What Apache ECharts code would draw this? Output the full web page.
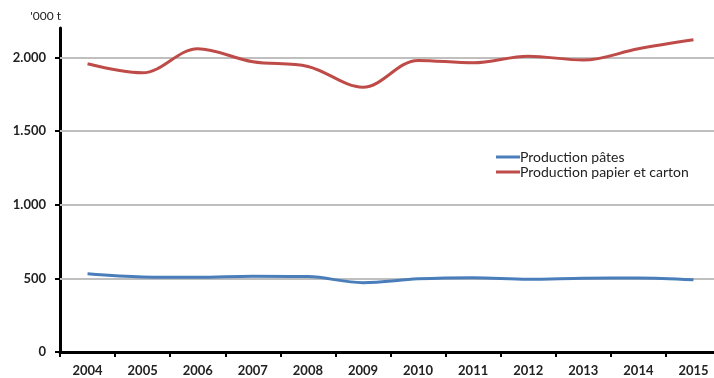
<!DOCTYPE html>
<html>
<head>
<meta charset="utf-8">
<script src="https://cdn.jsdelivr.net/npm/echarts@6/dist/echarts.min.js"></script>
<style>
  html, body { margin: 0; padding: 0; background: #fff; overflow: hidden; }
  #chart { width: 722px; height: 378px; }
</style>
</head>
<body>
<div id="chart"></div>
<script>
// Annual production, thousand tonnes
const years = ['2004', '2005', '2006', '2007', '2008', '2009', '2010', '2011', '2012', '2013', '2014', '2015'];
const pulp = [531, 510, 508, 515, 512, 471, 497, 505, 494, 501, 503, 490];
const paperBoard = [1957, 1896, 2059, 1971, 1939, 1798, 1980, 1964, 2009, 1982, 2059, 2120];
const gridValues = [500, 1000, 1500, 2000];

const FONT = 'Lato, "Open Sans", sans-serif';

function fmt(v) {
  return String(v).replace(/\B(?=(\d{3})+(?!\d))/g, '.');
}

const chart = echarts.init(document.getElementById('chart'));
chart.setOption({
  animation: false,
  textStyle: { fontFamily: FONT },
  // the plot runs slightly past the right edge of the visible window
  grid: { left: 60, top: 28, right: 1, bottom: 26, containLabel: false },
  legend: {
    orient: 'vertical',
    left: 491,
    top: 145,
    itemWidth: 24,
    itemHeight: 3,
    itemGap: 1,
    icon: 'rect',
    textStyle: { fontFamily: FONT, fontSize: 14, color: '#222', padding: [0, 0, 0, -5] },
    data: ['Production pâtes', 'Production papier et carton']
  },
  xAxis: {
    type: 'category',
    data: years,
    boundaryGap: true,
    axisLine: { lineStyle: { color: '#000', width: 3 } },
    axisTick: { show: true, length: 5, lineStyle: { color: '#000', width: 2 } },
    axisLabel: { fontFamily: FONT, fontWeight: 'bold', fontSize: 13, color: '#222', margin: 12 },
    splitLine: { show: false }
  },
  yAxis: {
    type: 'value',
    min: 0,
    max: 2200,
    interval: 500,
    name: "'000 t",
    nameLocation: 'end',
    nameGap: 6,
    nameTextStyle: { fontFamily: FONT, fontSize: 12, color: '#222', align: 'right', padding: [0, -1, 0, 0] },
    axisLine: { show: true, lineStyle: { color: '#000', width: 3 } },
    axisTick: { show: true, length: 5, lineStyle: { color: '#000', width: 2 } },
    axisLabel: {
      fontFamily: FONT, fontWeight: 'bold', fontSize: 13, color: '#222', margin: 14,
      showMaxLabel: false,
      formatter: v => (v % 500 === 0 ? fmt(v) : '')
    },
    splitLine: { show: false }
  },
  series: [
    {
      name: 'Production pâtes',
      type: 'line',
      smooth: 0.35,
      symbol: 'none',
      data: pulp,
      z: 3,
      lineStyle: { color: '#4a7ebb', width: 3 },
      itemStyle: { color: '#4a7ebb' },
      markLine: {
        silent: true,
        symbol: 'none',
        z: 1,
        label: { show: false },
        lineStyle: { color: '#bfbfbf', width: 2, type: 'solid' },
        data: gridValues.map(v => ({ yAxis: v }))
      }
    },
    {
      name: 'Production papier et carton',
      type: 'line',
      smooth: 0.35,
      symbol: 'none',
      data: paperBoard,
      z: 3,
      lineStyle: { color: '#be4b48', width: 3 },
      itemStyle: { color: '#be4b48' }
    }
  ]
});
</script>
</body>
</html>
